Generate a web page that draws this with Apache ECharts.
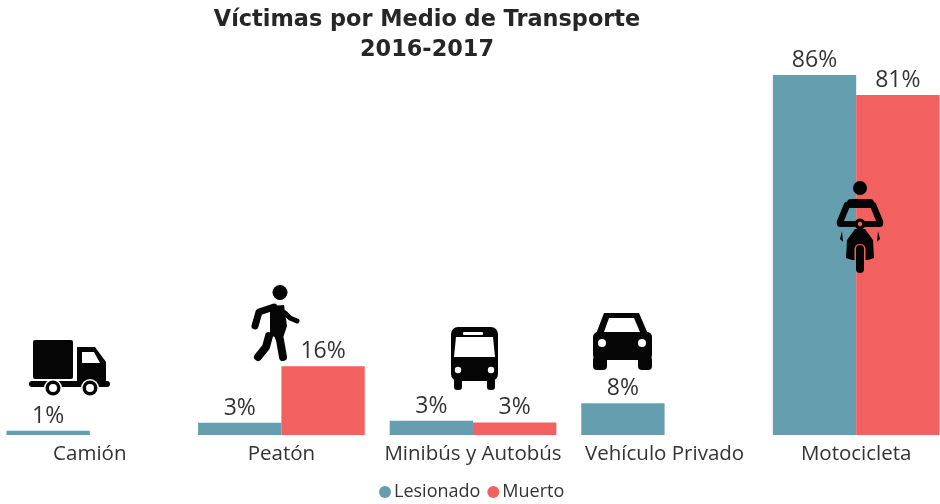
<!DOCTYPE html>
<html>
<head>
<meta charset="utf-8">
<style>
  html, body { margin: 0; padding: 0; background: #fff; }
  #chart { width: 940px; height: 504px; }
</style>
</head>
<body>
<div id="chart"></div>
<script src="https://cdn.jsdelivr.net/npm/echarts@6/dist/echarts.min.js"></script>
<script>
const categories = ['Camión', 'Peatón', 'Minibús y Autobús', 'Vehículo Privado', 'Motocicleta']
const lesionado = [1, 2.9, 3.4, 7.6, 86]
const muerto = [null, 16.4, 3, null, 81.2]
const titleText = 'Víctimas por Medio de Transporte\n2016-2017'

const teal = '#659EAF'
const red = '#F26060'
const black = '#050505'
const textColor = '#333333'

// icon helpers
const box = (x, y, width, height, r, fill) => ({ type: 'rect', z: 100, shape: { x, y, width, height, r: r || 0 }, style: { fill: fill || black } })
const dot = (cx, cy, r, fill) => ({ type: 'circle', z: 100, shape: { cx, cy, r }, style: { fill: fill || black } })
const poly = (points, fill) => ({ type: 'polygon', z: 100, shape: { points }, style: { fill: fill || black } })
const stroke = (points, lineWidth) => ({ type: 'polyline', z: 100, shape: { points }, style: { stroke: black, fill: 'none', lineWidth, lineCap: 'round', lineJoin: 'round' } })

const truck = [
  box(33, 340, 40, 39, 2),
  poly([[77, 347], [95, 347], [106, 362], [106, 383], [77, 383]]),
  poly([[82, 352], [94, 352], [100, 363], [82, 363]], '#fff'),
  box(29, 381, 81, 6, 3),
  dot(53, 388, 9, '#fff'), dot(53, 388, 7.5), dot(53, 388, 4, '#fff'),
  dot(90, 388, 9, '#fff'), dot(90, 388, 7.5), dot(90, 388, 4, '#fff')
]
const walker = [
  dot(280, 292.5, 7.5),
  stroke([[274, 307], [259, 312], [255, 326]], 7),
  stroke([[285, 313], [290, 318], [297, 321]], 5),
  poly([[270, 306], [284, 305], [287, 326], [283, 338], [270, 336]]),
  stroke([[277, 332], [280, 340], [283, 357]], 8),
  stroke([[269, 336], [266, 347], [258, 357]], 8)
]
const bus = [
  box(451, 327, 47, 54, 7),
  box(463, 332, 20, 3, 1, '#fff'),
  poly([[456, 337], [493, 337], [495, 357], [454, 357]], '#fff'),
  dot(458, 370, 3.2, '#fff'), dot(491, 370, 3.2, '#fff'),
  box(454, 378, 8, 12, 3), box(487, 378, 8, 12, 3)
]
const car = [
  poly([[604, 313], [639, 313], [648, 334], [596, 334]]),
  poly([[609, 318], [634, 318], [640, 332], [604, 332]], '#fff'),
  box(593, 332, 59, 28, 5),
  dot(602, 343, 4, '#fff'), dot(642, 343, 4, '#fff'),
  box(593, 356, 14, 14, 4), box(638, 356, 14, 14, 4)
]
const moto = [
  dot(860, 188, 7),
  box(847, 199, 27, 9, 4),
  stroke([[840, 222], [847, 205]], 6.5),
  stroke([[880, 222], [873, 205]], 6.5),
  box(837, 221, 46, 6, 3),
  poly([[855, 229], [865, 229], [873, 240], [874, 258], [868, 260], [852, 260], [846, 258], [847, 240]]),
  dot(860, 224, 5.5), dot(860, 224, 2.2, red),
  poly([[842, 231], [840, 239], [843, 242]]),
  poly([[878, 231], [880, 239], [877, 242]]),
  box(854.5, 244, 11, 20, 5, red),
  box(856, 245, 8, 28, 4)
]

const chart = echarts.init(document.getElementById('chart'))
const labelStyle = {
  show: true,
  position: 'top',
  distance: 3,
  color: textColor,
  fontFamily: 'Open Sans',
  fontSize: 23,
  formatter: (p) => Math.round(p.value) + '%'
}
chart.setOption({
  animation: false,
  backgroundColor: '#fff',
  title: {
    text: titleText,
    left: 422,
    top: 0,
    textAlign: 'center',
    textStyle: { fontFamily: 'DejaVu Sans', fontWeight: 'bold', fontSize: 22.4, lineHeight: 30, color: '#262626' }
  },
  legend: {
    left: 374,
    top: 478,
    icon: 'circle',
    itemWidth: 12,
    itemHeight: 12,
    itemGap: 7,
    textStyle: { fontFamily: 'Open Sans', fontSize: 18, color: textColor, padding: [0, 0, 0, -2] },
    data: ['Lesionado', 'Muerto']
  },
  grid: { left: -6, right: -12, top: 75, bottom: 69, outerBoundsMode: 'none' },
  xAxis: {
    type: 'category',
    data: categories,
    axisLine: { show: false },
    axisTick: { show: false },
    axisLabel: { color: textColor, fontFamily: 'Open Sans', fontSize: 20.5, margin: 9, interval: 0 }
  },
  yAxis: { type: 'value', min: 0, max: 86, show: false, splitLine: { show: false } },
  series: [
    { name: 'Lesionado', type: 'bar', data: lesionado, barGap: 0, barCategoryGap: '13%', itemStyle: { color: teal }, label: labelStyle },
    { name: 'Muerto', type: 'bar', data: muerto, itemStyle: { color: red }, label: labelStyle }
  ],
  graphic: { elements: [].concat(truck, walker, bus, car, moto) }
})
</script>
</body>
</html>
